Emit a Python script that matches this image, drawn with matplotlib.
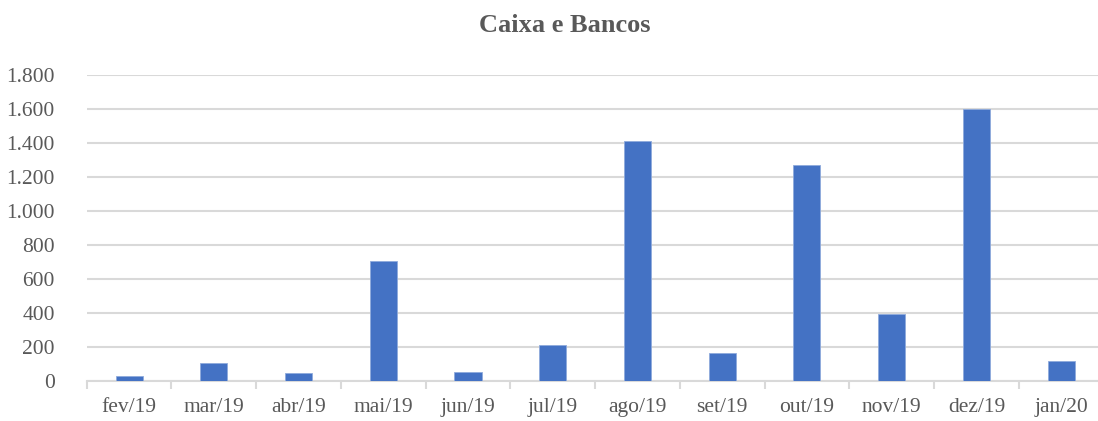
import matplotlib.pyplot as plt
from matplotlib.ticker import FuncFormatter
import numpy as np

meses = ['fev/19', 'mar/19', 'abr/19', 'mai/19', 'jun/19', 'jul/19',
         'ago/19', 'set/19', 'out/19', 'nov/19', 'dez/19', 'jan/20']
valores = [28, 108, 45, 705, 53, 210, 1411, 163, 1268, 392, 1597, 116]

plt.rcParams['font.family'] = ['Liberation Serif', 'DejaVu Serif']
cinza = '#595959'
grade = '#D9D9D9'

fig = plt.figure(figsize=(10.98, 4.21), dpi=100)
ax = fig.add_axes([0.079, 0.095, 0.926, 0.7275])

x = np.arange(len(meses))
ax.bar(x, valores, width=0.32, color='#4472C4', edgecolor='#8FAADC', linewidth=0.6, zorder=3)

ax.set_xlim(-0.5, len(meses) - 0.5)
ax.set_ylim(0, 1800)
ax.set_yticks(np.arange(0, 1801, 200))
ax.yaxis.set_major_formatter(FuncFormatter(lambda v, p: f'{int(v):,}'.replace(',', '.')))
ax.grid(axis='y', color=grade, linewidth=1.5, zorder=0)

# rótulos no centro, marcas entre categorias
ax.set_xticks(x)
ax.set_xticklabels(meses)
ax.set_xticks(np.arange(-0.5, len(meses), 1), minor=True)
ax.tick_params(axis='x', which='major', length=0, pad=12, labelsize=15.5, labelcolor=cinza)
ax.tick_params(axis='x', which='minor', length=6, width=1.5, color=grade)
ax.tick_params(axis='y', length=0, pad=23, labelsize=15.5, labelcolor=cinza)

for s in ['top', 'right', 'left']:
    ax.spines[s].set_visible(False)
ax.spines['bottom'].set_color(grade)
ax.spines['bottom'].set_linewidth(1.5)

fig.text(0.514, 0.94, 'Caixa e Bancos', ha='center', va='center',
         fontsize=19, fontweight='bold', color=cinza)

fig.savefig('out.png', dpi=100)
